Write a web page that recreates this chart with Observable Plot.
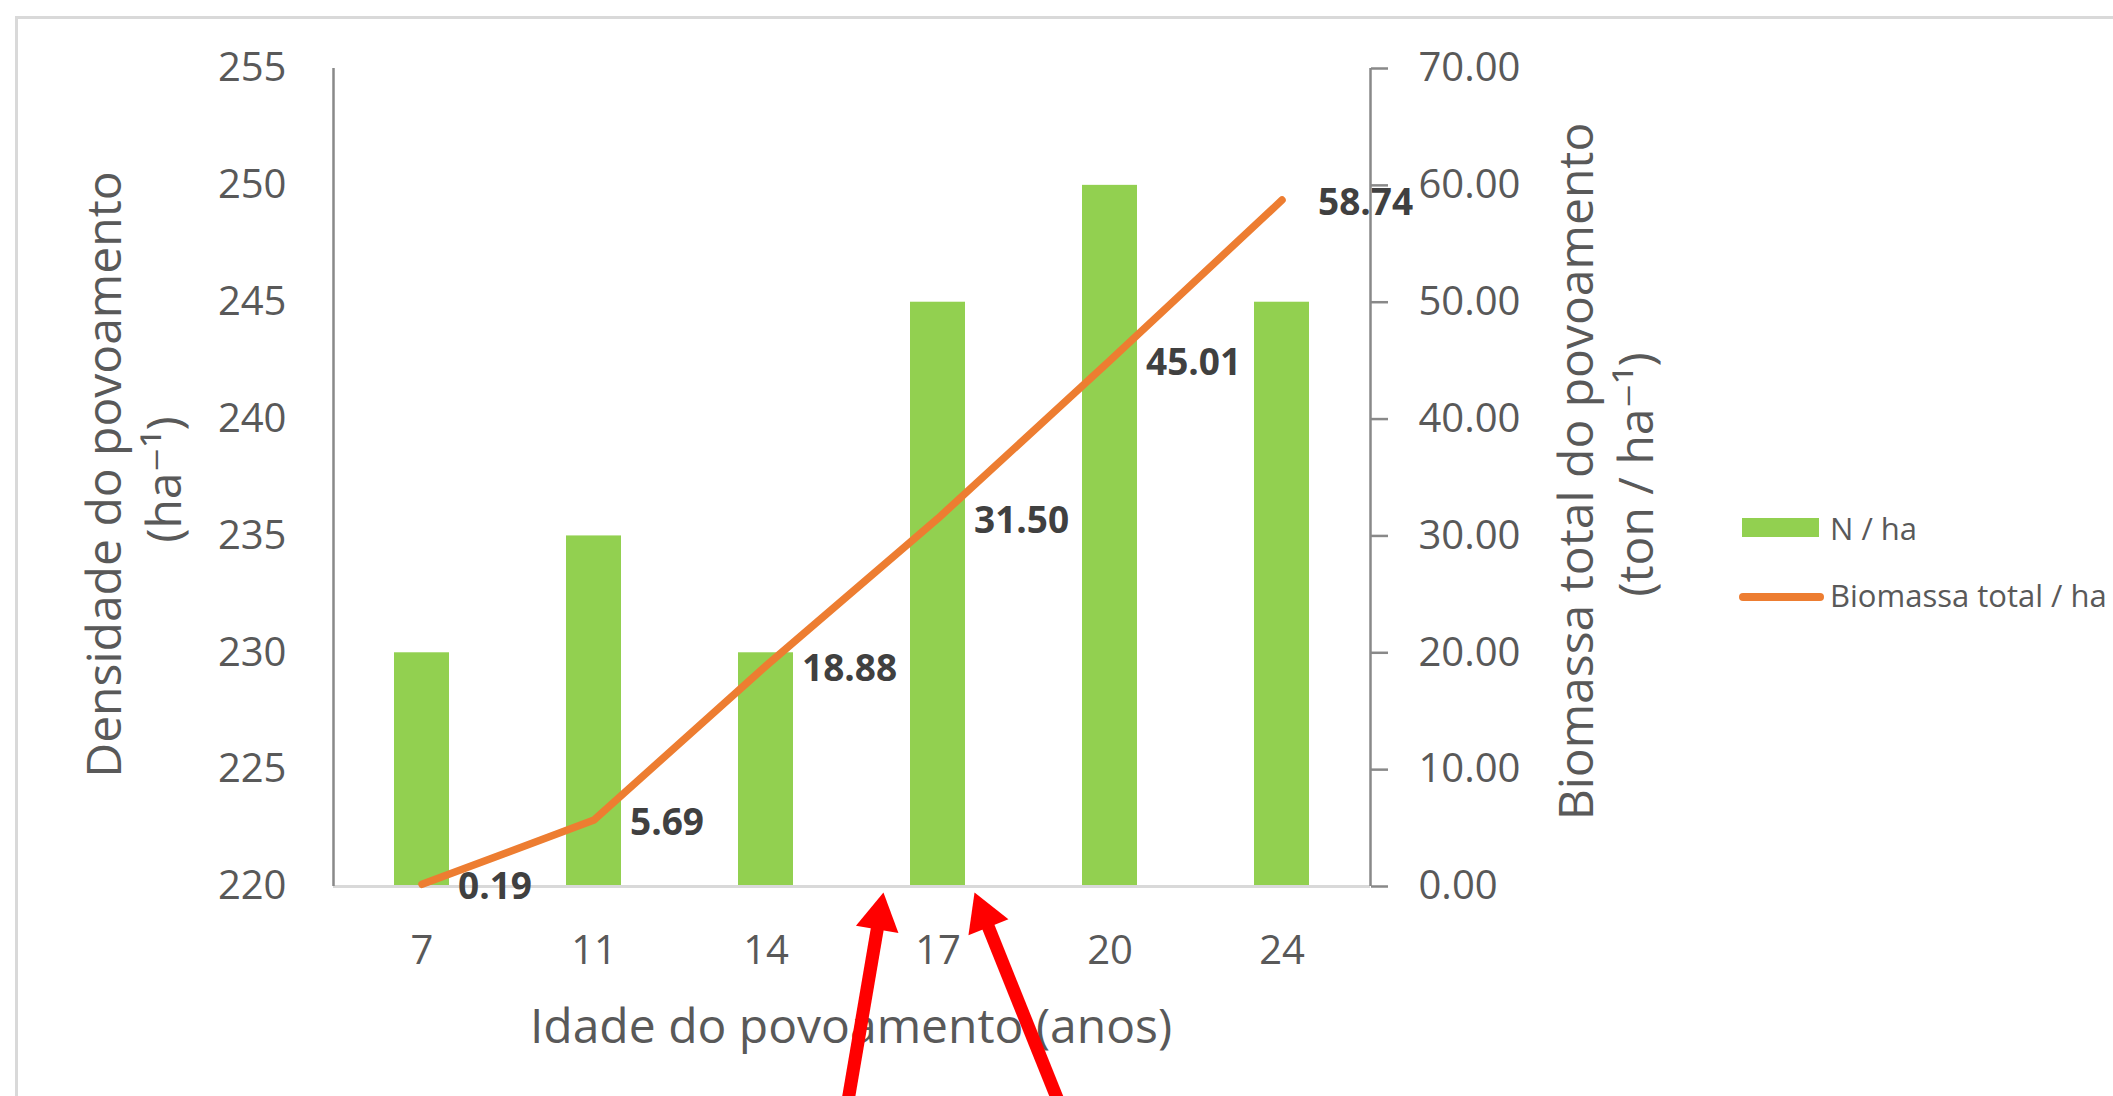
<!DOCTYPE html>
<html><head><meta charset="utf-8">
<script src="https://cdn.jsdelivr.net/npm/d3@7"></script>
<script src="https://cdn.jsdelivr.net/npm/@observablehq/plot@0.6"></script>
<style>
html,body{margin:0;padding:0;background:#fff;overflow:hidden;}
#wrap{position:relative;width:2113px;height:1096px;overflow:hidden;background:#fff;font-family:"Open Sans",sans-serif;}
#wrap svg{position:absolute;left:0;top:0;}
#border{position:absolute;left:15px;top:16px;width:2400px;height:1400px;border:3px solid #d9d9d9;pointer-events:none;}
.lg-text{position:absolute;left:1830px;font-size:31px;line-height:40px;color:#595959;white-space:nowrap;font-family:"Open Sans",sans-serif;}
.lg-bar{position:absolute;left:1742px;top:518px;width:77px;height:19px;background:#92d050;}
.lg-line{position:absolute;left:1739px;top:593px;width:85px;height:8px;border-radius:4px;background:#ed7d31;}
</style></head>
<body><div id="wrap"></div>
<script>
// ---- data ----
const ages = ["7", "11", "14", "17", "20", "24"];
const densidade = [230, 235, 230, 245, 250, 245];          // N / ha (left axis)
const biomassa = [0.19, 5.69, 18.88, 31.50, 45.01, 58.74];  // Biomassa total / ha (right axis)
const leftTicks = [220, 225, 230, 235, 240, 245, 250, 255];
const rightTicks = [0, 10, 20, 30, 40, 50, 60, 70];
const xTitle = ["Idade do povoamento (anos)"];
const leftTitle = ["Densidade do povoamento", "(ha⁻¹)"];
const rightTitle = ["Biomassa total do povoamento", "(ton / ha⁻¹)"];
const legendLabels = ["N / ha", "Biomassa total / ha"];
// red arrow annotations (x in category units from the left edge, y in left-axis units)
const arrowTailX = [2.967, 4.216];
const arrowTailY = [210.4, 210.4];
const arrowTipX = [3.182, 3.709];
const arrowTipY = [219.74, 219.74];

// ---- layout ----
const W = 2113, H = 1096;
const M = {marginLeft: 333, marginRight: 743, marginTop: 68, marginBottom: 210};
const L0 = leftTicks[0], L1 = leftTicks[leftTicks.length - 1];
const R0 = rightTicks[0], R1 = rightTicks[rightTicks.length - 1];
const toLeft = b => L0 + (b - R0) * (L1 - L0) / (R1 - R0);
const fromLeft = v => R0 + (v - L0) * (R1 - R0) / (L1 - L0);

const rows = ages.map((a, i) => ({age: a, n: densidade[i], bio: biomassa[i]}));
const font = '"Open Sans", "DejaVu Sans", sans-serif';
const tickColor = "#595959";
const axisLine = "#898989";

const main = Plot.plot({
  width: W, height: H, ...M,
  style: {fontFamily: font, background: "white"},
  x: {type: "band", domain: ages, paddingInner: 0.68, paddingOuter: 0.34, axis: null},
  y: {domain: [L0, L1], axis: null},
  marks: [
    Plot.barY(rows, {x: "age", y1: L0, y2: "n", fill: "#92d050"}),
    Plot.ruleY([L0], {stroke: "#d9d9d9", strokeWidth: 3}),
    Plot.line(rows, {x: "age", y: d => toLeft(d.bio), stroke: "#ed7d31", strokeWidth: 7.5,
      strokeLinecap: "round", strokeLinejoin: "round"}),
    Plot.text(rows, {x: "age", y: d => toLeft(d.bio), text: d => d.bio.toFixed(2),
      textAnchor: "start", dx: 36, dy: 3, fontSize: 37, fontWeight: "bold", fill: "#404040"}),
    Plot.axisY(leftTicks, {anchor: "left", tickSize: 0, tickPadding: 47, fontSize: 40,
      fill: tickColor, label: null, tickFormat: d => String(d)}),
    Plot.axisY(rightTicks.map(toLeft), {anchor: "right", tickSize: 17, tickPadding: 31, fontSize: 40,
      fill: tickColor, stroke: axisLine, strokeWidth: 2.5, label: null,
      tickFormat: d => fromLeft(d).toFixed(2)}),
    Plot.axisX({anchor: "bottom", tickSize: 0, tickPadding: 49, fontSize: 40, fill: tickColor, label: null})
  ]
});

// arrow head geometry (filled triangles)
const headR = 16;
const headSize = headR * headR * Math.PI;
const headOffset = 2 * Math.sqrt(headSize / (3 * Math.sqrt(3))); // tip-to-centroid distance (px)
const pxX = (W - M.marginLeft - M.marginRight) / ages.length;
const pxY = (H - M.marginTop - M.marginBottom) / (L1 - L0);
const arrows = arrowTailX.map((tx, i) => {
  const dxp = (arrowTipX[i] - tx) * pxX;
  const dyp = -(arrowTipY[i] - arrowTailY[i]) * pxY;
  const len = Math.hypot(dxp, dyp);
  const t = headOffset / len;
  return {
    x1: tx, y1: arrowTailY[i],
    cx: arrowTipX[i] + (tx - arrowTipX[i]) * t,
    cy: arrowTipY[i] + (arrowTailY[i] - arrowTipY[i]) * t,
    angle: Math.atan2(dxp, -dyp) * 180 / Math.PI
  };
});

const titleStyle = {fontSize: 48, fill: tickColor, textAnchor: "middle", lineAnchor: "middle", text: d => d};
const overlay = Plot.plot({
  width: W, height: H, ...M,
  style: {fontFamily: font, background: "transparent"},
  x: {domain: [0, ages.length], axis: null},
  y: {domain: [L0, L1], axis: null},
  marks: [
    Plot.ruleX([0], {y1: L0, y2: L1, stroke: axisLine, strokeWidth: 2.5}),
    Plot.ruleX([ages.length], {y1: L0, y2: L1, stroke: axisLine, strokeWidth: 2.5}),
    Plot.text([leftTitle[0]], {...titleStyle, frameAnchor: "left", rotate: -90, dx: -228, dy: -3}),
    Plot.text([leftTitle[1]], {...titleStyle, frameAnchor: "left", rotate: -90, dx: -168, dy: 2}),
    Plot.text([rightTitle[0]], {...titleStyle, frameAnchor: "right", rotate: -90, dx: 207, dy: -6}),
    Plot.text([rightTitle[1]], {...titleStyle, frameAnchor: "right", rotate: -90, dx: 267, dy: -3}),
    Plot.text(xTitle, {...titleStyle, frameAnchor: "bottom", dy: 141, dx: -1}),
    Plot.link(arrows, {x1: "x1", y1: "y1", x2: "cx", y2: "cy", stroke: "#ff0000", strokeWidth: 13}),
    Plot.dot(arrows, {x: "cx", y: "cy", symbol: "triangle", r: headR, rotate: "angle", fill: "#ff0000", stroke: "none"})
  ]
});

const wrap = document.getElementById("wrap");
wrap.appendChild(main);
wrap.appendChild(overlay);

// legend (right of the plot)
const lgBar = document.createElement("div"); lgBar.className = "lg-bar"; wrap.appendChild(lgBar);
const lgLine = document.createElement("div"); lgLine.className = "lg-line"; wrap.appendChild(lgLine);
[508, 575].forEach((top, i) => {
  const s = document.createElement("div");
  s.className = "lg-text"; s.style.top = top + "px"; s.textContent = legendLabels[i];
  wrap.appendChild(s);
});
const border = document.createElement("div"); border.id = "border"; wrap.appendChild(border);
</script>
</body></html>
